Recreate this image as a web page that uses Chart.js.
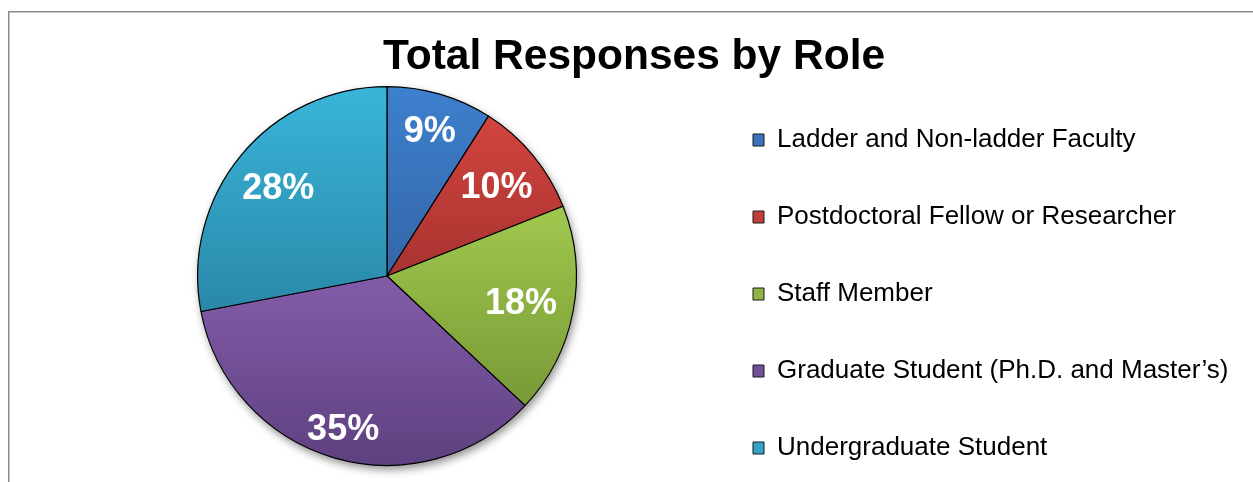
<!DOCTYPE html>
<html>
<head>
<meta charset="utf-8">
<title>Total Responses by Role</title>
<style>
  html, body { margin: 0; padding: 0; background: #fff; overflow: hidden; width: 1253px; height: 482px; }
  #wrap { position: absolute; left: 8px; top: 0; width: 1253px; height: 482px; }
  canvas { display: block; }
</style>
<script src="https://cdn.jsdelivr.net/npm/chart.js@4.4.1/dist/chart.umd.min.js"></script>
</head>
<body>
<div id="wrap"><canvas id="roleChart" width="1253" height="482"></canvas></div>
<script>
// ---- data ----
const chartTitle = 'Total Responses by Role';
const categories = [
  'Ladder and Non-ladder Faculty',
  'Postdoctoral Fellow or Researcher',
  'Staff Member',
  'Graduate Student (Ph.D. and Master\u2019s)',
  'Undergraduate Student'
];
const shares = [9, 10, 18, 35, 28];   // percent of all responses

// ---- styling ----
const FONT = "'Liberation Sans', Arial, Helvetica, sans-serif";
const sliceTop    = ['#3d80cd', '#d2443f', '#a0c94e', '#835ca9', '#39b5da'];
const sliceBottom = ['#3466a8', '#a83330', '#789936', '#5e4180', '#2a88a8'];
const swatchFill  = ['#3b73bf', '#c23e3a', '#8fb444', '#72519b', '#34a1c6'];

const LEGEND_FONT = 26;
const LEGEND_GAP = 51;      // space between legend rows
const LEGEND_WIDTH = 494;
const LEGEND_TOP = 76;

// vertical gradient spanning each slice's own extent
function sliceGradient(context) {
  const i = context.dataIndex;
  if (i === undefined) return sliceBottom[0];
  const chart = context.chart;
  const area = chart.chartArea;
  if (!area) return sliceBottom[i];
  const ctrl = chart.getDatasetMeta(0).controller;
  const r = ctrl.outerRadius || Math.min(area.width, area.height) / 2;
  const cy = (area.top + area.bottom) / 2 + (ctrl.offsetY || 0);
  const total = shares.reduce((a, b) => a + b, 0);
  let acc = 0;
  for (let k = 0; k < i; k++) acc += shares[k];
  const a0 = -Math.PI / 2 + acc / total * 2 * Math.PI;
  const a1 = a0 + shares[i] / total * 2 * Math.PI;
  const ys = [cy, cy + r * Math.sin(a0), cy + r * Math.sin(a1)];
  [Math.PI / 2, 3 * Math.PI / 2].forEach(q => { if (q > a0 && q < a1) ys.push(cy + r * Math.sin(q)); });
  const g = chart.ctx.createLinearGradient(0, Math.min(...ys), 0, Math.max(...ys));
  g.addColorStop(0, sliceTop[i]);
  g.addColorStop(1, sliceBottom[i]);
  return g;
}

// grey frame around the chart
const framePlugin = {
  id: 'frame',
  beforeDraw(chart) {
    const c = chart.ctx;
    c.save();
    c.strokeStyle = '#8a8a8a';
    c.lineWidth = 1.5;
    c.beginPath();
    c.moveTo(0.75, chart.height);
    c.lineTo(0.75, 11.75);
    c.lineTo(chart.width, 11.75);
    c.stroke();
    c.restore();
  }
};

// soft drop shadow under the pie
const shadowPlugin = {
  id: 'pieShadow',
  beforeDatasetsDraw(chart) {
    const arc = chart.getDatasetMeta(0).data[0];
    if (!arc) return;
    const c = chart.ctx;
    c.save();
    c.shadowColor = 'rgba(0,0,0,0.45)';
    c.shadowBlur = 8;
    c.shadowOffsetX = 2;
    c.shadowOffsetY = 4;
    c.fillStyle = '#ffffff';
    c.beginPath();
    c.arc(arc.x, arc.y, arc.outerRadius, 0, Math.PI * 2);
    c.fill();
    c.restore();
  }
};

// percentage labels inside each slice
const sliceLabels = {
  id: 'sliceLabels',
  afterDatasetsDraw(chart, args, opts) {
    const c = chart.ctx;
    const meta = chart.getDatasetMeta(0);
    c.save();
    c.fillStyle = opts.color;
    c.font = 'bold ' + opts.size + 'px ' + FONT;
    c.textAlign = 'center';
    c.textBaseline = 'middle';
    meta.data.forEach((arc, i) => {
      const mid = (arc.startAngle + arc.endAngle) / 2;
      const d = arc.outerRadius * opts.radiusFactor[i];
      c.fillText(chart.data.datasets[0].data[i] + '%',
        arc.x + Math.cos(mid) * d, arc.y + Math.sin(mid) * d + opts.dy);
    });
    c.restore();
  }
};

// one-column legend with a fixed width, rows starting at LEGEND_TOP
const legendSizing = {
  id: 'legendSizing',
  beforeLayout(chart) {
    const legend = chart.legend;
    if (!legend || legend._fixedFit) return;
    const fit = legend.fit;
    legend.fit = function () {
      const mh = this.maxHeight;
      this.maxHeight = 100000;
      fit.call(this);
      this.maxHeight = mh;
      this.width = LEGEND_WIDTH;
      this.height = mh;
    };
    legend._fixedFit = true;
  },
  afterLayout(chart) {
    const legend = chart.legend;
    if (!legend) return;
    legend.top = LEGEND_TOP;
    legend.bottom = chart.height + 1000;
    legend.height = legend.bottom - legend.top;
    legend.right = chart.width;
    legend.width = legend.right - legend.left;
  }
};

new Chart(document.getElementById('roleChart'), {
  type: 'pie',
  data: {
    labels: categories,
    datasets: [{
      data: shares,
      backgroundColor: sliceGradient,
      borderColor: '#000000',
      borderWidth: 1.2
    }]
  },
  plugins: [framePlugin, shadowPlugin, sliceLabels, legendSizing],
  options: {
    responsive: false,
    animation: false,
    events: [],
    layout: { padding: { left: 64, right: 65, top: 0, bottom: 16 } },
    plugins: {
      tooltip: { enabled: false },
      title: {
        display: true,
        text: chartTitle,
        color: '#000000',
        font: { family: FONT, size: 42.5, weight: 'bold' },
        padding: { top: 32, bottom: 3 }
      },
      legend: {
        display: true,
        position: 'right',
        align: 'start',
        fullSize: false,
        labels: {
          color: '#000000',
          font: { family: FONT, size: LEGEND_FONT },
          boxWidth: 11,
          boxHeight: 12,
          padding: LEGEND_GAP,
          generateLabels(chart) {
            return chart.data.labels.map((text, i) => ({
              text,
              fillStyle: swatchFill[i],
              strokeStyle: '#1a1a1a',
              lineWidth: 1,
              fontColor: '#000000',
              hidden: false,
              index: i,
              datasetIndex: 0
            }));
          }
        }
      },
      sliceLabels: { color: '#ffffff', size: 36, dy: 3, radiusFactor: [0.81, 0.75, 0.72, 0.83, 0.745] }
    }
  }
});
</script>
</body>
</html>
